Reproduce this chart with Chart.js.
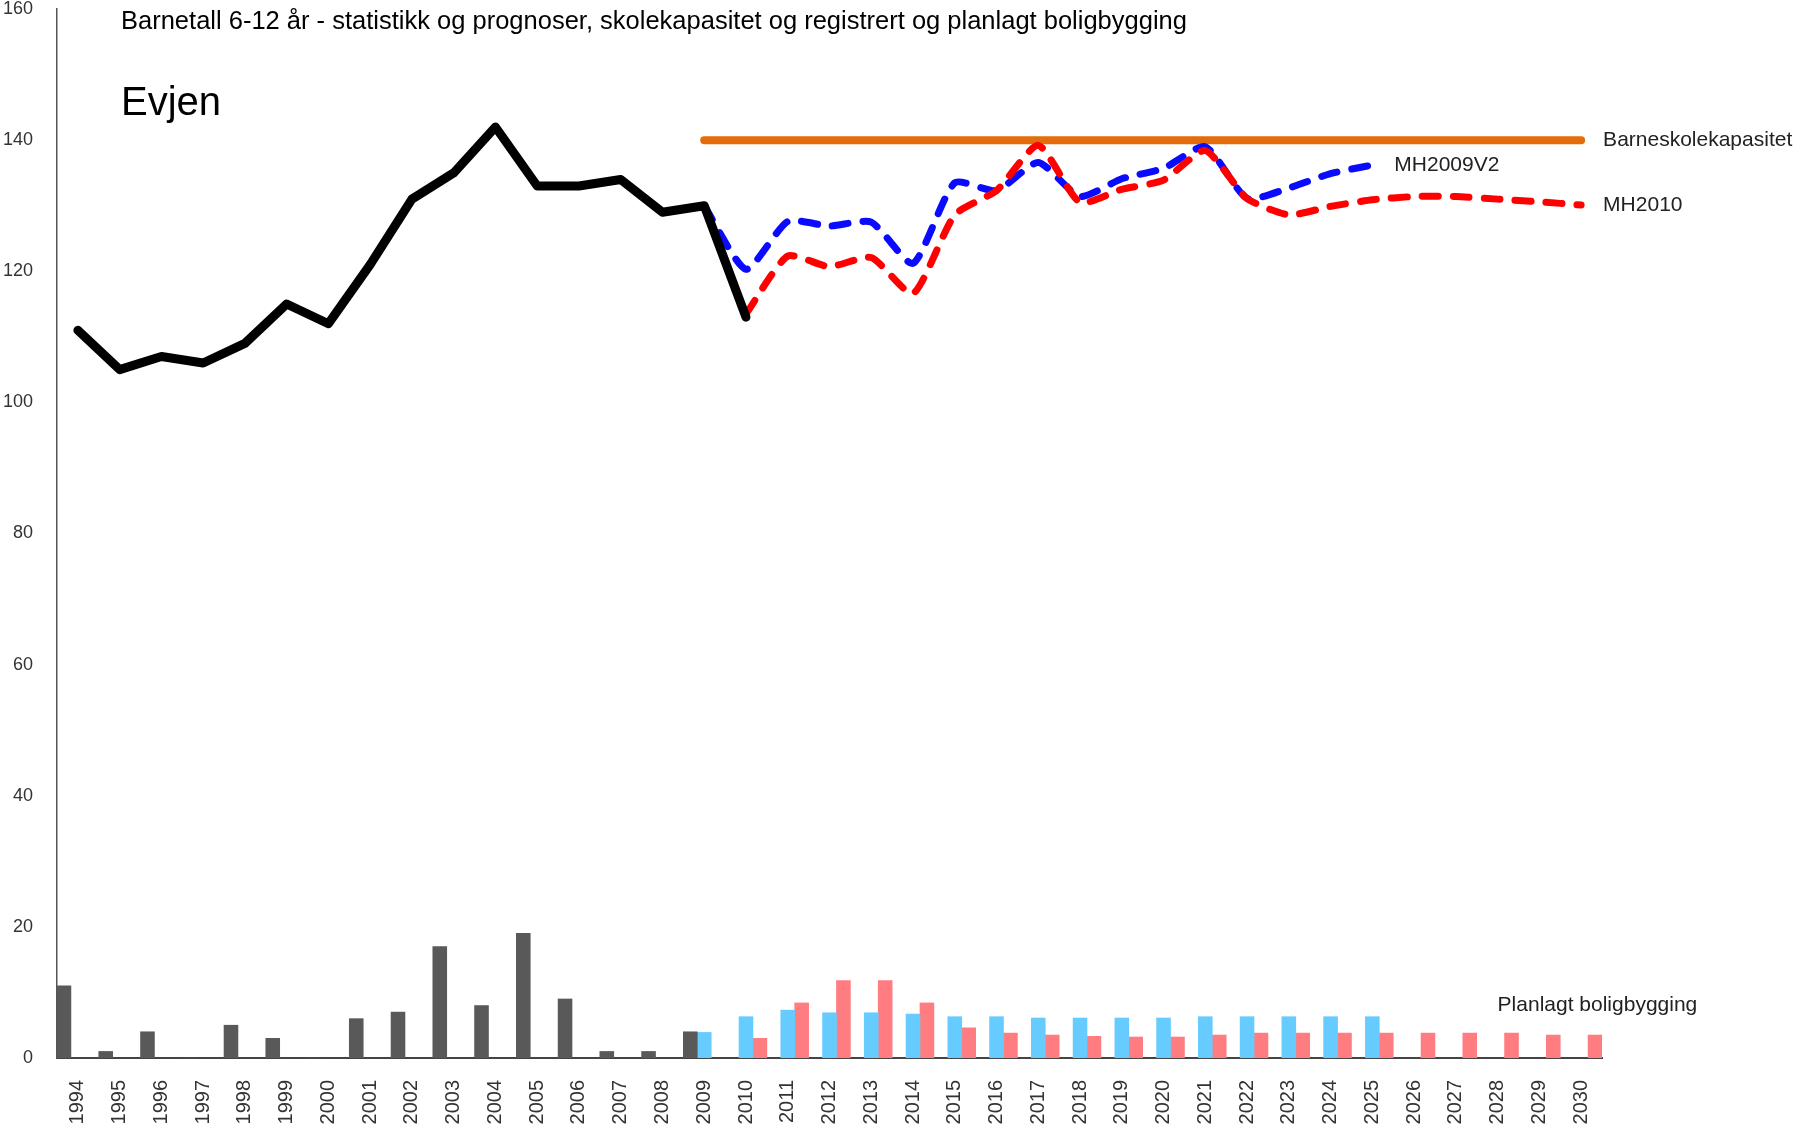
<!DOCTYPE html>
<html>
<head>
<meta charset="utf-8">
<script src="https://cdn.jsdelivr.net/npm/chart.js@4.4.0/dist/chart.umd.min.js"></script>
<style>
html,body{margin:0;padding:0;background:#fff;}
canvas{display:block;}
</style>
</head>
<body>
<canvas id="c" width="1806" height="1131"></canvas>
<script>
// ---- DATA ----
const years = ['1994','1995','1996','1997','1998','1999','2000','2001','2002','2003','2004','2005','2006','2007','2008','2009','2010','2011','2012','2013','2014','2015','2016','2017','2018','2019','2020','2021','2022','2023','2024','2025','2026','2027','2028','2029','2030'];

const titleText = 'Barnetall 6-12 år - statistikk og prognoser, skolekapasitet og registrert og planlagt boligbygging';
const placeName = 'Evjen';

// Registered housing construction 1994-2009
const builtStart = '1994';
const builtValues = [11, 1, 4, 0, 5, 3, 0, 6, 7, 17, 8, 19, 9, 1, 1, 4];

// Planned housing construction (blue) 2009-2025
const plannedBlueStart = '2009';
const plannedBlueValues = [3.9, 6.3, 7.3, 6.9, 6.9, 6.7, 6.3, 6.3, 6.1, 6.1, 6.1, 6.1, 6.3, 6.3, 6.3, 6.3, 6.3];

// Planned housing construction (red) 2010-2030
const plannedRedStart = '2010';
const plannedRedValues = [3.0, 8.4, 11.8, 11.8, 8.4, 4.6, 3.8, 3.5, 3.3, 3.2, 3.2, 3.5, 3.8, 3.8, 3.8, 3.8, 3.8, 3.8, 3.8, 3.5, 3.5];

// Children 6-12 statistics 1994-2010
const statsStart = '1994';
const statsValues = [111, 105, 107, 106, 109, 115, 112, 121, 131, 135, 142, 133, 133, 134, 129, 130, 113];

// Prognosis MH2009V2 2009-2025
const mh2009Start = '2009';
const mh2009Values = [130, 120.3, 127.6, 126.9, 127.5, 121.2, 133.5, 132.3, 136.6, 131.4, 134.1, 135.7, 139.0, 131.1, 132.7, 134.9, 136.2];

// Prognosis MH2010 2010-2030
const mh2010Start = '2010';
const mh2010Values = [113.5, 122.3, 120.7, 122.1, 116.6, 128.6, 132.3, 139.2, 130.5, 132.5, 133.9, 138.4, 131.1, 128.6, 129.9, 130.9, 131.4, 131.4, 131.0, 130.6, 130.1];

// School capacity 2009-2030
const capacityStart = '2009';
const capacityValues = [140, 140, 140, 140, 140, 140, 140, 140, 140, 140, 140, 140, 140, 140, 140, 140, 140, 140, 140, 140, 140, 140];

const yTicks = [0, 20, 40, 60, 80, 100, 120, 140, 160];

const labelCapacity = 'Barneskolekapasitet';
const labelMH2009 = 'MH2009V2';
const labelMH2010 = 'MH2010';
const labelPlanned = 'Planlagt boligbygging';
const plannedLabelYear = '2028';
const plannedLabelValue = 8;

// place a series onto the year axis
function onYears(start, values) {
  const out = years.map(() => null);
  const s = years.indexOf(start);
  values.forEach((v, i) => { out[s + i] = v; });
  return out;
}

const FONT = '"Liberation Sans", Arial, sans-serif';

const textPlugin = {
  id: 'texts',
  afterDraw(chart) {
    const ctx = chart.ctx;
    ctx.save();
    ctx.fillStyle = '#000';
    ctx.textAlign = 'left';
    ctx.textBaseline = 'alphabetic';
    ctx.font = '25.5px ' + FONT;
    ctx.fillText(titleText, 121, 29);
    ctx.font = '40px ' + FONT;
    ctx.fillText(placeName, 121, 115);

    ctx.font = '21px ' + FONT;
    ctx.fillStyle = '#222';
    ctx.textBaseline = 'middle';
    chart.data.datasets.forEach((ds, i) => {
      if (!ds.endLabel) return;
      const meta = chart.getDatasetMeta(i);
      let last = -1;
      ds.data.forEach((v, j) => { if (v !== null && v !== undefined) last = j; });
      if (last < 0) return;
      const pt = meta.data[last];
      ctx.fillText(ds.endLabel, pt.x + 22, pt.y);
    });
    const xs = chart.scales.x, ys = chart.scales.y;
    ctx.fillText(labelPlanned, xs.getPixelForValue(years.indexOf(plannedLabelYear)), ys.getPixelForValue(plannedLabelValue));
    ctx.restore();
  }
};

const ctx = document.getElementById('c').getContext('2d');
new Chart(ctx, {
  type: 'bar',
  data: {
    labels: years,
    datasets: [
      {
        type: 'line', label: 'Statistikk', data: onYears(statsStart, statsValues),
        borderColor: '#000000', borderWidth: 9, pointRadius: 0, fill: false,
        borderCapStyle: 'round', borderJoinStyle: 'round', tension: 0
      },
      {
        type: 'line', label: labelMH2010, endLabel: labelMH2010, data: onYears(mh2010Start, mh2010Values),
        borderColor: '#FF0000', borderWidth: 7, pointRadius: 0, fill: false,
        borderDash: [16, 15], borderCapStyle: 'round', borderJoinStyle: 'round', tension: 0.2
      },
      {
        type: 'line', label: labelMH2009, endLabel: labelMH2009, data: onYears(mh2009Start, mh2009Values),
        borderColor: '#0A0AFF', borderWidth: 7, pointRadius: 0, fill: false,
        borderDash: [16, 15], borderCapStyle: 'round', borderJoinStyle: 'round', tension: 0.2
      },
      {
        type: 'line', label: labelCapacity, endLabel: labelCapacity, data: onYears(capacityStart, capacityValues),
        borderColor: '#E46C0A', borderWidth: 8, pointRadius: 0, fill: false,
        borderCapStyle: 'round', tension: 0
      },
      {
        label: 'Registrert boligbygging', data: onYears(builtStart, builtValues),
        backgroundColor: '#595959', borderWidth: 0,
        categoryPercentage: 1, barPercentage: 1
      },
      {
        label: 'Planlagt (MH2009V2)', data: onYears(plannedBlueStart, plannedBlueValues),
        backgroundColor: '#66CCFF', borderWidth: 0,
        categoryPercentage: 1, barPercentage: 1
      },
      {
        label: 'Planlagt (MH2010)', data: onYears(plannedRedStart, plannedRedValues),
        backgroundColor: '#FF7C80', borderWidth: 0,
        categoryPercentage: 1, barPercentage: 1
      }
    ]
  },
  options: {
    responsive: false,
    devicePixelRatio: 1,
    animation: false,
    layout: { padding: { top: 9, right: 204, left: 0, bottom: 0 } },
    plugins: {
      legend: { display: false },
      tooltip: { enabled: false },
      title: { display: false }
    },
    scales: {
      x: {
        type: 'category',
        offset: true,
        z: 1,
        grid: { display: false, drawTicks: false },
        border: { display: true, color: '#444', width: 2 },
        ticks: {
          autoSkip: false, minRotation: 90, maxRotation: 90, padding: 22,
          color: '#333', font: { family: FONT, size: 20 }
        },
        afterFit(s) { s.height = 73; s.paddingLeft = 0; s.paddingRight = 0; s.paddingTop = 0; s.paddingBottom = 0; }
      },
      y: {
        min: 0, max: 160,
        afterBuildTicks(s) { s.ticks = yTicks.map(v => ({ value: v })); },
        grid: { display: false, drawTicks: false },
        border: { display: true, color: '#555', width: 1.5 },
        ticks: { padding: 24, color: '#333', font: { family: FONT, size: 18 } },
        afterFit(s) { s.width = 57; s.paddingTop = 0; s.paddingBottom = 0; s.paddingLeft = 0; s.paddingRight = 0; }
      }
    }
  },
  plugins: [textPlugin]
});
</script>
</body>
</html>
